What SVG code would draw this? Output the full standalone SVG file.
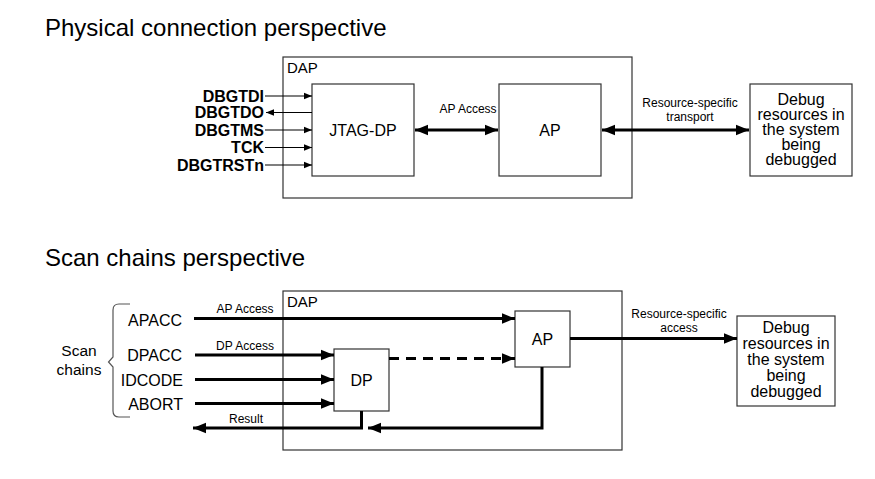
<svg xmlns="http://www.w3.org/2000/svg" width="875" height="479" viewBox="0 0 875 479">
<defs>
<marker id="as" viewBox="0 0 10 10" refX="10" refY="5" markerWidth="8" markerHeight="8" markerUnits="userSpaceOnUse" orient="auto-start-reverse">
<path d="M0,1 L10,5 L0,9 z" fill="#000"/>
</marker>
<marker id="ab" viewBox="0 0 10 10" refX="10" refY="5" markerWidth="13" markerHeight="13" markerUnits="userSpaceOnUse" orient="auto-start-reverse">
<path d="M0,1 L10,5 L0,9 z" fill="#000"/>
</marker>
</defs>
<style>
text{font-family:"Liberation Sans",Arial,sans-serif;fill:#000}
.title{font-size:24px}
.box{fill:#fff;stroke:#333;stroke-width:1.2}
.lbl{font-size:16px;text-anchor:middle}
.dap{font-size:15px}
.sig{font-size:16px;font-weight:bold;text-anchor:end}
.small{font-size:12px;text-anchor:middle}
.thin{stroke:#000;stroke-width:1.2;fill:none}
.thick{stroke:#000;stroke-width:3;fill:none}
.sc{font-size:16px;text-anchor:end}
</style>
<rect width="875" height="479" fill="#fff"/>
<text class="title" x="45" y="36">Physical connection perspective</text>
<text class="title" x="45" y="266">Scan chains perspective</text>

<g id="dap1"><rect class="box" x="283" y="57" width="349" height="141"/><text class="dap" x="287" y="73">DAP</text></g>
<g id="jtagdp"><rect class="box" x="312" y="84" width="102" height="92"/><text class="lbl" x="363" y="135.5">JTAG-DP</text></g>
<g id="ap1"><rect class="box" x="499" y="84" width="102" height="92"/><text class="lbl" x="550" y="135.5">AP</text></g>
<g id="debug1"><rect class="box" x="750" y="84" width="102" height="92"/>
<text class="lbl" x="801" y="104.5">Debug</text><text class="lbl" x="801" y="119.5">resources in</text><text class="lbl" x="801" y="134.5">the system</text><text class="lbl" x="801" y="149.5">being</text><text class="lbl" x="801" y="164.5">debugged</text></g>
<g id="signals">
<text class="sig" x="264" y="101.5">DBGTDI</text>
<text class="sig" x="264" y="118">DBGTDO</text>
<text class="sig" x="264" y="135.5">DBGTMS</text>
<text class="sig" x="264" y="153">TCK</text>
<text class="sig" x="264" y="170.5">DBGTRSTn</text>
</g>

<g id="dap2"><rect class="box" x="283" y="291" width="339" height="159"/><text class="dap" x="287" y="307">DAP</text></g>
<g id="ap2"><rect class="box" x="515" y="311" width="55" height="56"/><text class="lbl" x="542.5" y="344.5">AP</text></g>
<g id="dp2"><rect class="box" x="334" y="349" width="55" height="62"/><text class="lbl" x="361.5" y="385.5">DP</text></g>
<g id="debug2"><rect class="box" x="737" y="316" width="98" height="90"/>
<text class="lbl" x="786" y="333">Debug</text><text class="lbl" x="786" y="349">resources in</text><text class="lbl" x="786" y="365">the system</text><text class="lbl" x="786" y="381">being</text><text class="lbl" x="786" y="397">debugged</text></g>
<g id="scanchains">
<text class="sc" x="182" y="325.5">APACC</text>
<text class="sc" x="182" y="360.5">DPACC</text>
<text class="sc" x="183" y="385.5">IDCODE</text>
<text class="sc" x="183" y="409.5">ABORT</text>
<text class="lbl" x="79" y="356" style="font-size:15.5px">Scan</text>
<text class="lbl" x="79" y="375" style="font-size:15.5px">chains</text>
<path d="M130,304 L119,304 Q113,304 113,310 L113,357 L108.5,362 L113,367 L113,411 Q113,417 119,417 L130,417" fill="none" stroke="#555" stroke-width="1.2"/>
</g>

<g id="connectors">
<line class="thin" x1="265" y1="96" x2="312" y2="96" marker-end="url(#as)"/>
<line class="thin" x1="312" y1="112.5" x2="266" y2="112.5" marker-end="url(#as)"/>
<line class="thin" x1="265" y1="130" x2="312" y2="130" marker-end="url(#as)"/>
<line class="thin" x1="265" y1="147.5" x2="312" y2="147.5" marker-end="url(#as)"/>
<line class="thin" x1="265" y1="165" x2="312" y2="165" marker-end="url(#as)"/>
<line class="thick" x1="415" y1="130" x2="498" y2="130" marker-start="url(#ab)" marker-end="url(#ab)"/>
<text class="small" x="468" y="113">AP Access</text>
<line class="thick" x1="602" y1="130" x2="749" y2="130" marker-start="url(#ab)" marker-end="url(#ab)"/>
<text class="small" x="690" y="107">Resource-specific</text>
<text class="small" x="690" y="121">transport</text>

<line class="thick" x1="194" y1="318.5" x2="515" y2="318.5" marker-end="url(#ab)"/>
<text class="small" x="245" y="313">AP Access</text>
<line class="thick" x1="195" y1="355" x2="334" y2="355" marker-end="url(#ab)"/>
<text class="small" x="245" y="350">DP Access</text>
<line class="thick" x1="195" y1="379.5" x2="334" y2="379.5" marker-end="url(#ab)"/>
<line class="thick" x1="195" y1="403.5" x2="334" y2="403.5" marker-end="url(#ab)"/>
<polyline class="thick" points="361.5,411 361.5,428 193,428" marker-end="url(#ab)"/>
<text class="small" x="246" y="423">Result</text>
<polyline class="thick" points="542,367 542,428 368,428" marker-end="url(#ab)"/>
<line class="thick" x1="389" y1="358.5" x2="515" y2="358.5" stroke-dasharray="10,7" marker-end="url(#ab)"/>
<line class="thick" x1="570" y1="338.5" x2="737" y2="338.5" marker-end="url(#ab)"/>
<text class="small" x="679" y="318">Resource-specific</text>
<text class="small" x="679" y="332">access</text>
</g>
</svg>
